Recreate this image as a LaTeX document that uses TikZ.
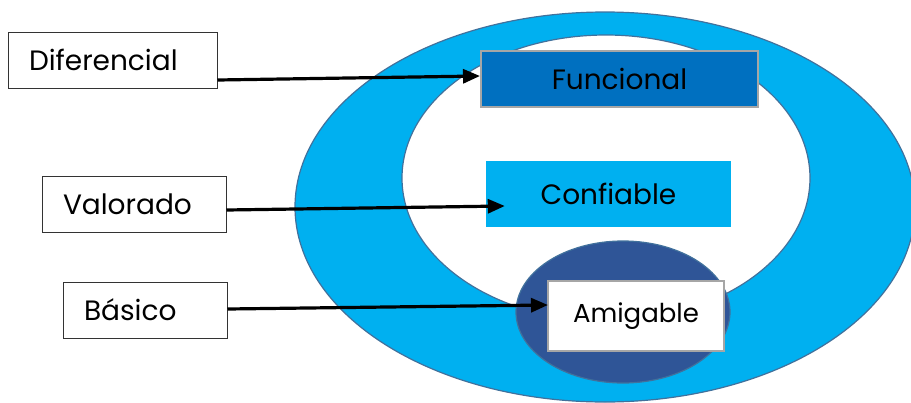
\documentclass[tikz,border=0pt]{standalone}
\usepackage{fontspec}
\setmainfont{Poppins}
\usetikzlibrary{arrows.meta}
\definecolor{ringblue}{HTML}{00B0F0}
\definecolor{ringedge}{HTML}{41719C}
\definecolor{coreblue}{HTML}{2F5597}
\definecolor{topblue}{HTML}{0070C0}
\definecolor{boxgray}{HTML}{A6A6A6}
\begin{document}
\begin{tikzpicture}
[x=1pt,y=-1pt,
 ringdecorate/.style={draw=ringedge,line width=1.2pt},%
 leftdecorate/.style={shape=rectangle,inner ysep=0pt,inner xsep=21pt,align=left,draw=black!80,line width=1pt,fill=white,minimum height=56pt,font=\fontsize{28}{32}\selectfont},%
 rightdecorate/.style={shape=rectangle,inner sep=0pt,font=\fontsize{28}{32}\selectfont},%
 linedecorate/.style={-{Triangle[length=17pt,width=14pt]},line width=3.2pt}]
\useasboundingbox (0,0) rectangle (911,402);
\clip (0,0) rectangle (911,402);
%% rings
\draw[ringdecorate,fill=ringblue] (605,207) ellipse [x radius=310,y radius=195];
\draw[ringdecorate,fill=white] (606,178) ellipse [x radius=204,y radius=143];
\draw[ringdecorate,fill=coreblue] (623,312) ellipse [x radius=107,y radius=71];
%% nodes or vertices
\foreach \nodename/\nodetext/\x/\y/\tw in {Diferencial/Diferencial/112.5/60/167, Valorado/Valorado/134/204.5/142, Basico/Básico/145/310/122} {
  \node (\nodename) at (\x,\y) [leftdecorate,text width=\tw pt] {\nodetext};
}
\node (Funcional) at (619.5,79) [rightdecorate,fill=topblue,draw=boxgray,line width=2pt,minimum width=277pt,minimum height=56pt] {Funcional};
\node (Confiable) at (608.5,194) [rightdecorate,fill=ringblue,minimum width=245pt,minimum height=66pt] {Confiable};
\node (Amigable) at (636,316) [rightdecorate,fill=white,draw=boxgray,line width=2pt,minimum width=176pt,minimum height=70pt,font=\fontsize{26}{30}\selectfont] {Amigable};
%% edges or lines
\draw[linedecorate] ([yshift=-20pt]Diferencial.east) -- ([yshift=3pt]Funcional.west);
\draw[linedecorate] ([yshift=-5.5pt]Valorado.east) -- ([xshift=19pt,yshift=-12pt]Confiable.west);
\draw[linedecorate] ([yshift=1pt]Basico.east) -- ([xshift=1pt,yshift=11pt]Amigable.west);
\end{tikzpicture}
\end{document}
